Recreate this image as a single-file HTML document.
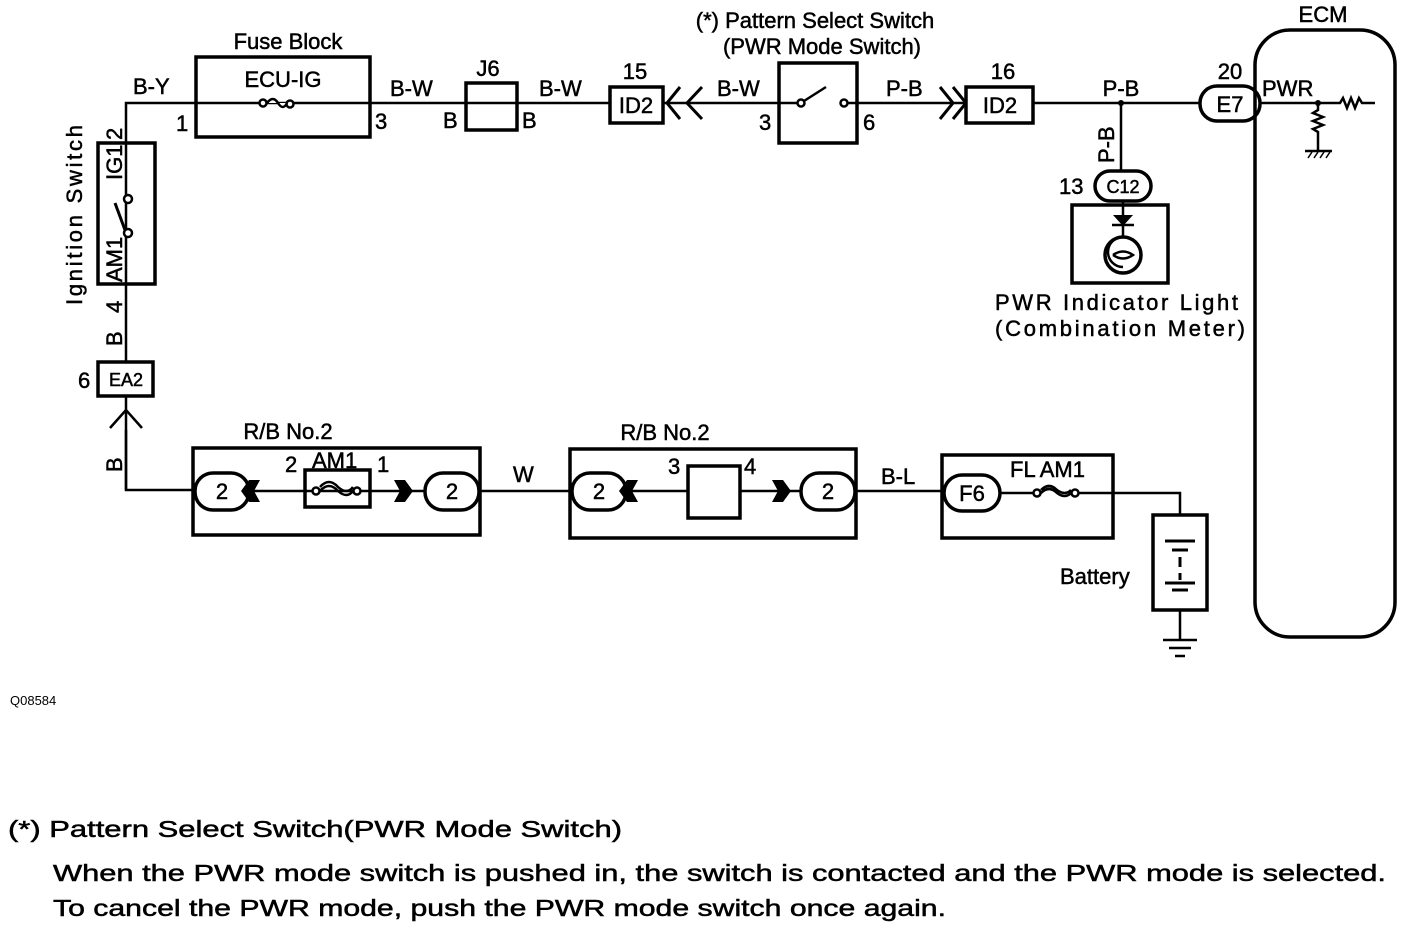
<!DOCTYPE html>
<html><head><meta charset="utf-8"><style>
body{margin:0;background:#fff}
svg{display:block}
text{font-family:"Liberation Sans",sans-serif;fill:#000;stroke:#000;stroke-width:0.5}
</style></head><body>
<svg width="1408" height="930" viewBox="0 0 1408 930" xmlns="http://www.w3.org/2000/svg">
<g fill="none" stroke="#000" stroke-width="2.5">
<path d="M126 490 V103 H610"/>
<path d="M663 103 H779 M857 103 H965 M1033 103 H1200 M1121 103 V171"/>
<rect x="98" y="143" width="57" height="141" stroke-width="3.5"/>
<circle cx="128" cy="199" r="4" fill="#fff"/><circle cx="128" cy="233" r="4" fill="#fff"/>
<path d="M125 230 L115 203" stroke-width="3"/>
<rect x="196" y="57" width="174" height="80" stroke-width="3.5"/>
<circle cx="263" cy="103" r="3.5" fill="#fff"/><circle cx="290" cy="104" r="3.5" fill="#fff"/>
<path d="M267 103 q6 -8 11 0 q5 8 9 0" fill="#fff"/>
<rect x="466" y="83" width="51" height="47" stroke-width="3.5"/>
<rect x="610" y="87" width="53" height="36" stroke-width="3.5" fill="#fff"/>
<path d="M680 87 L667 103 L680 119 M702 87 L687 103 L702 119" stroke-width="3"/>
<rect x="779" y="63" width="78" height="80" stroke-width="3.5" fill="#fff"/>
<path d="M779 103 H798 M847 103 H857"/>
<circle cx="801" cy="103" r="3.5" fill="#fff"/><circle cx="844" cy="103" r="3.5" fill="#fff"/>
<path d="M804 101 L826 87"/>
<path d="M940 87 L953 103 L940 119 M953 87 L966 103 L953 119" stroke-width="3"/>
<rect x="966" y="87" width="67" height="36" stroke-width="3.5" fill="#fff"/>
<rect x="1200" y="86" width="60" height="35" rx="17" stroke-width="3.5" fill="#fff"/>
<rect x="1255" y="30" width="140" height="607" rx="35" stroke-width="3.5"/>
<path d="M1260 103 H1340 l3 -5 l4 10 l4 -10 l4 10 l4 -10 l3 5 H1375"/>
<path d="M1318 103 V110 l-5 3 l10 4 l-10 4 l10 4 l-10 4 l5 3 V150 M1305 151 H1332"/>
<path d="M1308 158 l4 -6 M1314 158 l4 -6 M1320 158 l4 -6 M1326 158 l4 -6" stroke-width="1.5"/>
<rect x="1095" y="171" width="56" height="30" rx="15" stroke-width="3.5" fill="#fff"/>
<rect x="1072" y="205" width="96" height="78" stroke-width="3.5"/>
<path d="M1123 201 V237"/>
<path d="M1112 225 H1134"/>
<circle cx="1123" cy="255" r="18" stroke-width="3.5"/>
<path d="M1123 237 a8 8 0 0 0 0 30 M1113 255 q10 -7 20 0 q-10 7 -20 0"/>
<rect x="98" y="362" width="55" height="34" stroke-width="3.5" fill="#fff"/>
<path d="M110 428 L126 410 L142 428"/>
<path d="M126 430 V490 H195 M480 491 H572 M856 491 H942 M1000 493 H1036 M1074 493 H1180 V515 M1180 610 V640"/>
<path d="M1163 640 H1197 M1169 648 H1191 M1175 656 H1185"/>
<rect x="193" y="448" width="287" height="87" stroke-width="3.5"/>
<path d="M240 491 H426"/>
<rect x="305" y="470" width="65" height="37" stroke-width="3.5"/>
<circle cx="316" cy="491" r="3.5" fill="#fff"/><circle cx="357" cy="491" r="3.5" fill="#fff"/>
<path d="M320 491 q9 -10 18 0 q9 8 15 0 M320 487 q9 -10 18 0 q9 8 15 0"/>
<rect x="195" y="473" width="54" height="37" rx="18" stroke-width="3.5" fill="#fff"/>
<rect x="425" y="473" width="54" height="37" rx="18" stroke-width="3.5" fill="#fff"/>
<rect x="570" y="449" width="286" height="89" stroke-width="3.5"/>
<path d="M620 491 H808"/>
<rect x="688" y="466" width="52" height="52" stroke-width="3.5" fill="#fff"/>
<rect x="572" y="473" width="54" height="37" rx="18" stroke-width="3.5" fill="#fff"/>
<rect x="801" y="473" width="54" height="37" rx="18" stroke-width="3.5" fill="#fff"/>
<rect x="942" y="455" width="171" height="83" stroke-width="3.5"/>
<rect x="944" y="475" width="56" height="36" rx="18" stroke-width="3.5" fill="#fff"/>
<circle cx="1037" cy="493" r="3.5" fill="#fff"/><circle cx="1075" cy="493" r="3.5" fill="#fff"/>
<path d="M1041 493 q8 -8 16 0 q8 6 14 0 M1041 490 q8 -8 16 0 q8 6 14 0"/>
<rect x="1153" y="515" width="54" height="95" stroke-width="3.5"/>
<path d="M1165 541 H1195 M1172 550 H1188 M1180 557 V567 M1180 573 V580 M1165 583 H1195 M1172 590 H1188" stroke-width="3"/>
</g>
<g fill="#000">
<path d="M249 480 L241 491 L249 502 L260 502 L254 491 L260 480 Z"/>
<path d="M394 480 L405 480 L413 491 L405 502 L394 502 L400 491 Z"/>
<path d="M627 480 L619 491 L627 502 L638 502 L632 491 L638 480 Z"/>
<path d="M772 480 L783 480 L791 491 L783 502 L772 502 L778 491 Z"/>
<path d="M1113 215 H1133 L1123 226 Z"/>
<circle cx="1121" cy="103" r="3"/><circle cx="1318" cy="103" r="3"/>
</g>
<g font-size="22">
<text x="288" y="49" text-anchor="middle">Fuse Block</text>
<text x="283" y="87" text-anchor="middle">ECU-IG</text>
<text x="133" y="94">B-Y</text>
<text x="176" y="131">1</text>
<text x="375" y="129">3</text>
<text x="390" y="96">B-W</text>
<text x="443" y="128">B</text>
<text x="522" y="128">B</text>
<text x="488" y="76" text-anchor="middle">J6</text>
<text x="539" y="96">B-W</text>
<text x="635" y="79" text-anchor="middle">15</text>
<text x="636" y="113" text-anchor="middle">ID2</text>
<text x="717" y="96">B-W</text>
<text x="759" y="130">3</text>
<text x="863" y="130">6</text>
<text x="886" y="96">P-B</text>
<text x="815" y="28" text-anchor="middle">(*) Pattern Select Switch</text>
<text x="822" y="54" text-anchor="middle">(PWR Mode Switch)</text>
<text x="1003" y="79" text-anchor="middle">16</text>
<text x="1000" y="113" text-anchor="middle">ID2</text>
<text x="1121" y="96" text-anchor="middle">P-B</text>
<text x="1230" y="79" text-anchor="middle">20</text>
<text x="1230" y="112" text-anchor="middle">E7</text>
<text x="1323" y="22" text-anchor="middle">ECM</text>
<text x="1262" y="96">PWR</text>
<text x="1059" y="194">13</text>
<text x="1123" y="193" text-anchor="middle" font-size="18">C12</text>
<text x="995" y="310" textLength="243">PWR Indicator Light</text>
<text x="995" y="336" textLength="250">(Combination Meter)</text>
<text x="78" y="388">6</text>
<text x="126" y="386" text-anchor="middle" font-size="18">EA2</text>
<text x="288" y="439" text-anchor="middle">R/B No.2</text>
<text x="665" y="440" text-anchor="middle">R/B No.2</text>
<text x="222" y="499" text-anchor="middle">2</text>
<text x="452" y="499" text-anchor="middle">2</text>
<text x="599" y="499" text-anchor="middle">2</text>
<text x="828" y="499" text-anchor="middle">2</text>
<text x="285" y="472">2</text>
<text x="312" y="468">AM1</text>
<text x="377" y="472">1</text>
<text x="668" y="474">3</text>
<text x="744" y="474">4</text>
<text x="513" y="482">W</text>
<text x="881" y="484">B-L</text>
<text x="972" y="501" text-anchor="middle">F6</text>
<text x="1010" y="477">FL AM1</text>
<text x="1060" y="584">Battery</text>
<text transform="translate(82,305) rotate(-90)" textLength="180">Ignition Switch</text>
<text transform="translate(122,140) rotate(-90)">2</text>
<text transform="translate(122,180) rotate(-90)">IG1</text>
<text transform="translate(122,282) rotate(-90)">AM1</text>
<text transform="translate(122,313) rotate(-90)">4</text>
<text transform="translate(122,346) rotate(-90)">B</text>
<text transform="translate(122,472) rotate(-90)">B</text>
<text transform="translate(1114,163) rotate(-90)">P-B</text>
</g>
<text x="10" y="705" font-size="13" style="stroke-width:0">Q08584</text>
<g font-size="23">
<text x="8" y="837" textLength="614" lengthAdjust="spacingAndGlyphs">(*) Pattern Select Switch(PWR Mode Switch)</text>
<text x="53" y="881" textLength="1333" lengthAdjust="spacingAndGlyphs">When the PWR mode switch is pushed in, the switch is contacted and the PWR mode is selected.</text>
<text x="53" y="916" textLength="893" lengthAdjust="spacingAndGlyphs">To cancel the PWR mode, push the PWR mode switch once again.</text>
</g>
</svg>
</body></html>
